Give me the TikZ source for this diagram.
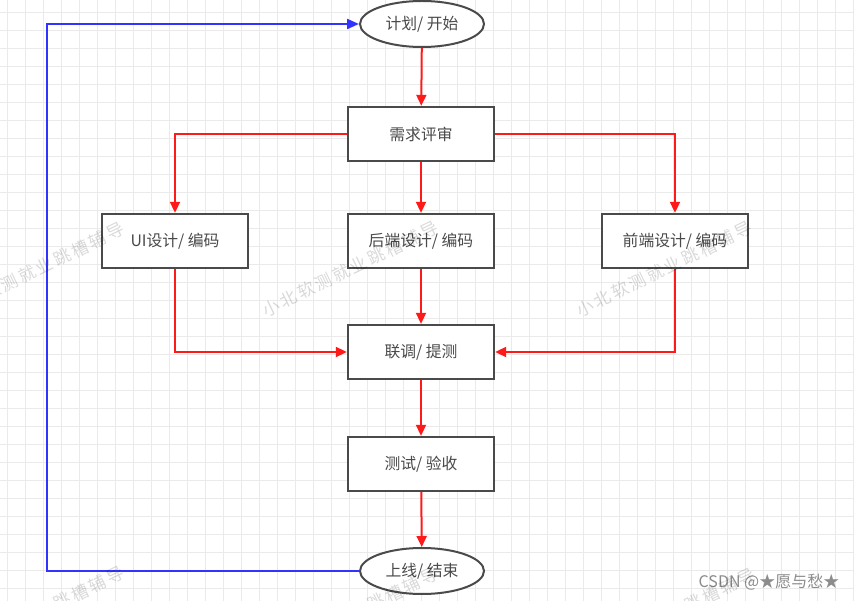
\documentclass[tikz,border=0pt]{standalone}
\usepackage{fontspec}
\setmainfont{Noto Sans CJK SC}
\newfontfamily\wmfont[LetterSpace=15]{Noto Sans CJK SC}
\usetikzlibrary{shapes.geometric,arrows.meta}
\definecolor{txt}{HTML}{4A4A4A}
\definecolor{bord}{HTML}{4A4A4A}
\definecolor{redl}{HTML}{FF1A1A}
\definecolor{bluel}{HTML}{3333FF}
\definecolor{gridc}{HTML}{EAEAEA}
\begin{document}
\begin{tikzpicture}[x=1pt,y=-1pt,
  box/.style={rectangle,draw=bord,line width=2.4pt,fill=white,minimum width=146pt,minimum height=54pt,inner sep=0pt,font=\fontsize{15.8pt}{17pt}\selectfont,text=txt},
  oval/.style={ellipse,draw=bord,line width=2pt,fill=white,minimum width=124pt,minimum height=46pt,inner sep=0pt,font=\fontsize{15.8pt}{17pt}\selectfont,text=txt},
  rarr/.style={draw=redl,line width=2pt,-{Triangle[length=11pt,width=10pt]}},
  barr/.style={draw=bluel,line width=2.2pt,-{Triangle[length=12pt,width=10pt]}},
  wm/.style={text=black,opacity=0.15,font=\wmfont\fontsize{17pt}{17pt}\selectfont,rotate=26,inner sep=0pt}]
\fill[white] (0,0) rectangle (854,601);
\useasboundingbox (0,0) rectangle (854,601);
\foreach \x in {7,25,...,853} \draw[gridc,line width=0.8pt] (\x,0) -- (\x,601);
\foreach \y in {12,30,...,600} \draw[gridc,line width=0.8pt] (0,\y) -- (854,\y);

\node[oval] (start) at (422,24) {计划/ 开始};
\node[box] (req) at (421,134) {需求评审};
\node[box] (ui) at (175,241) {UI设计/ 编码};
\node[box] (be) at (421,241) {后端设计/ 编码};
\node[box] (fe) at (675,241) {前端设计/ 编码};
\node[box] (jt) at (421,352) {联调/ 提测};
\node[box] (cs) at (421,464) {测试/ 验收};
\node[oval] (end) at (422,571) {上线/ 结束};

\draw[rarr] (start) -- (req);
\draw[rarr] (req.west) -| (ui.north);
\draw[rarr] (req) -- (be);
\draw[rarr] (req.east) -| (fe.north);
\draw[rarr] (ui.south) |- (jt.west);
\draw[rarr] (fe.south) |- (jt.east);
\draw[rarr] (be) -- (jt);
\draw[rarr] (jt) -- (cs);
\draw[rarr] (cs) -- (end);

\coordinate (tl) at (47,24);
\draw[barr] (end.west) -| (tl) -- (start.west);

\node[text=black!45,font=\fontsize{16pt}{18pt}\selectfont,inner sep=0pt] (csdn) at (769,582) {CSDN @★愿与愁★};

\node[wm] (w1) at (350,269) {小北软测就业跳槽辅导};
\node[wm] (w2) at (664,269) {小北软测就业跳槽辅导};
\node[wm] (w3) at (36,270) {小北软测就业跳槽辅导};
\node[wm] (w4) at (36,614) {小北软测就业跳槽辅导};
\node[wm] (w5) at (350,615) {小北软测就业跳槽辅导};
\node[wm] (w6) at (667,616) {小北软测就业跳槽辅导};
\end{tikzpicture}
\end{document}
